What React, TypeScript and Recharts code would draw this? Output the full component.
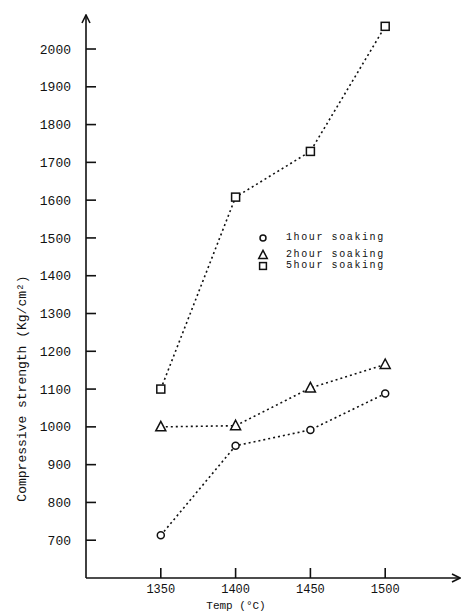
import React from 'react';
import { LineChart, Line, XAxis, YAxis, Legend } from 'recharts';

const temps = [1350, 1400, 1450, 1500];
const oneHour = [713, 950, 992, 1088];
const twoHour = [1000, 1003, 1103, 1165];
const fiveHour = [1100, 1608, 1729, 2060];
const xTicks = [1350, 1400, 1450, 1500];
const yTicks = [700, 800, 900, 1000, 1100, 1200, 1300, 1400, 1500, 1600, 1700, 1800, 1900, 2000];
const seriesNames = ['1hour soaking', '2hour soaking', '5hour soaking'];
const seriesKeys = ['one', 'two', 'five'];
const seriesShapes = ['circle', 'triangle', 'square'];

const data = temps.map((t, i) => ({ temp: t, one: oneHour[i], two: twoHour[i], five: fiveHour[i] }));

const MONO = '"Liberation Mono", "DejaVu Sans Mono", monospace';
const INK = '#111';

const Marker = ({ kind, cx, cy, s = 1 }: { kind: string; cx: number; cy: number; s?: number }) => {
  if (kind === 'circle') {
    return <circle cx={cx} cy={cy} r={3.5 * s} fill="#fff" stroke={INK} strokeWidth={1.5} />;
  }
  if (kind === 'triangle') {
    return (
      <path
        d={`M${cx},${cy - 5.5 * s} L${cx + 5 * s},${cy + 4 * s} L${cx - 5 * s},${cy + 4 * s} Z`}
        fill="#fff"
        stroke={INK}
        strokeWidth={1.5}
      />
    );
  }
  return <rect x={cx - 4 * s} y={cy - 4 * s} width={8 * s} height={8 * s} fill="#fff" stroke={INK} strokeWidth={1.5} />;
};

const makeDot = (kind: string) => (p: any) => (
  <Marker key={`${kind}-${p.index}`} kind={kind} cx={p.cx} cy={p.cy} />
);

const legendRowHeights = [14, 17, 11];

const renderLegend = (props: any) => {
  const payload = props.payload || [];
  return (
    <div style={{ fontFamily: MONO, fontSize: 10, color: INK, letterSpacing: 1.6 }}>
      {payload.map((e: any, i: number) => {
        const idx = seriesKeys.indexOf(e.dataKey);
        return (
          <div
            key={e.dataKey}
            style={{ display: 'flex', alignItems: 'flex-end', height: legendRowHeights[i], lineHeight: '10px' }}
          >
            <svg width={14} height={10} style={{ overflow: 'visible' }}>
              <Marker kind={seriesShapes[idx]} cx={7} cy={5} s={0.85} />
            </svg>
            <span style={{ marginLeft: 16 }}>{e.value}</span>
          </div>
        );
      })}
    </div>
  );
};

const YLabel = (props: any) => {
  const vb = props.viewBox || {};
  const x = vb.x - 4;
  const y = vb.y + vb.height / 2 + 92;
  return (
    <text
      x={x}
      y={y}
      transform={`rotate(-90, ${x}, ${y})`}
      textAnchor="middle"
      dominantBaseline="central"
      fontFamily={MONO}
      fontSize={13}
      fill={INK}
    >
      Compressive strength (Kg/cm²)
    </text>
  );
};

const XLabel = (props: any) => {
  const vb = props.viewBox || {};
  const x = vb.x + vb.width / 2 - 37;
  const y = vb.y + 28;
  return (
    <text x={x} y={y} textAnchor="middle" dominantBaseline="central" fontFamily={MONO} fontSize={11} fill={INK}>
      Temp (°C)
    </text>
  );
};

export default function App() {
  return (
    <div style={{ position: 'absolute', left: 0, top: 0, width: 462, height: 616, background: '#fff' }}>
      <LineChart width={462} height={616} data={data} margin={{ top: 15, right: 2, bottom: 8, left: 26 }}>
        <defs>
          <marker
            id="axisArrow"
            viewBox="0 0 10 10"
            refX="9"
            refY="5"
            markerWidth="10"
            markerHeight="10"
            markerUnits="userSpaceOnUse"
            orient="auto-start-reverse"
          >
            <path d="M1,1 L9,5 L1,9" fill="none" stroke={INK} strokeWidth={1.6} />
          </marker>
        </defs>
        <XAxis
          type="number"
          dataKey="temp"
          domain={[1300, 1550]}
          ticks={xTicks}
          allowDataOverflow
          height={30}
          axisLine={{ stroke: INK, strokeWidth: 1.6, markerEnd: 'url(#axisArrow)' }}
          tickLine={{ stroke: INK, strokeWidth: 1.6 }}
          tickSize={-10}
          tickMargin={16}
          tick={{ fill: INK, fontFamily: MONO, fontSize: 12 }}
          label={<XLabel />}
        />
        <YAxis
          type="number"
          domain={[600, 2090]}
          ticks={yTicks}
          allowDataOverflow
          width={60}
          axisLine={{ stroke: INK, strokeWidth: 1.6, markerStart: 'url(#axisArrow)' }}
          tickLine={{ stroke: INK, strokeWidth: 1.6 }}
          tickSize={-10}
          tickMargin={25}
          tick={{ fill: INK, fontFamily: MONO, fontSize: 13 }}
          label={<YLabel />}
        />
        <Legend
          layout="vertical"
          align="center"
          verticalAlign="middle"
          content={renderLegend}
          wrapperStyle={{ position: 'absolute', left: 256, top: 229, width: 170 }}
        />
        {seriesKeys.map((k, i) => (
          <Line
            key={k}
            type="linear"
            dataKey={k}
            name={seriesNames[i]}
            stroke={INK}
            strokeWidth={1.6}
            strokeDasharray="2 3"
            dot={makeDot(seriesShapes[i])}
            activeDot={false}
            isAnimationActive={false}
          />
        ))}
      </LineChart>
    </div>
  );
}
